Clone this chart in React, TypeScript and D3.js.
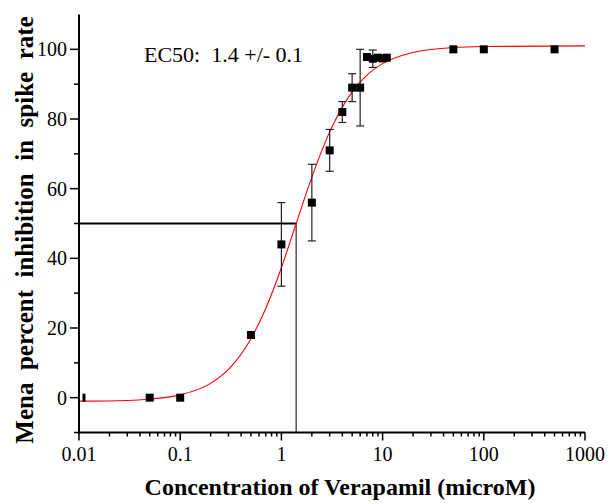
import { useEffect, useRef } from "react";
import * as d3 from "d3";

// measured points (concentration in microM, % inhibition, +/- error)
const concentrations = [0.0112, 0.05, 0.1, 0.5, 1, 2, 3, 4, 5, 6, 7, 8, 9, 10, 11, 50, 100, 500];
const inhibition = [0, 0, 0, 18, 44, 56, 71, 82, 89, 89, 97.8, 97.3, 97.6, 97.4, 97.6, 100, 100, 100];
const errors = [0, 0, 0, 0, 12, 11, 6, 3, 4, 11, 0, 2.5, 0, 0, 0, 0, 0, 0];

// fitted dose-response curve
const fitX = [0.01, 0.03, 0.05, 0.1, 0.2, 0.3, 0.5, 0.7, 1, 1.4, 2, 3, 5, 7, 10, 20, 50, 100, 1000];
const fitY = [-1.0, -0.8, -0.4, 0.8, 4.1, 8.1, 16.9, 25.6, 37.3, 50, 63.3, 76.3, 87.8, 92.6, 95.9, 99.1, 100.5, 100.8, 101];

const ec50 = 1.4;
const xTicks = [0.01, 0.1, 1, 10, 100, 1000];
const yTicks = [0, 20, 40, 60, 80, 100];
const yMinorTicks = [-10, 10, 30, 50, 70, 90];

const FONT = "Liberation Serif, Times New Roman, DejaVu Serif, serif";

export default function App() {
  const svgRef = useRef<SVGSVGElement>(null);
  const width = 612;
  const height = 504;

  useEffect(() => {
    if (!svgRef.current) return;
    const svg = d3.select(svgRef.current);
    svg.selectAll("*").remove();

    const x = d3.scaleLog().domain([0.01, 1000]).range([79, 585]);
    const y = d3.scaleLinear().domain([-10, 110]).range([432.5, 14.5]);
    const x0 = x.range()[0];
    const y0 = y.range()[0];

    // EC50 guide lines
    svg.append("line")
      .attr("x1", x0).attr("x2", x(ec50))
      .attr("y1", y(50)).attr("y2", y(50))
      .attr("stroke", "#000").attr("stroke-width", 2);
    svg.append("line")
      .attr("x1", x(ec50)).attr("x2", x(ec50))
      .attr("y1", y(50)).attr("y2", y0)
      .attr("stroke", "#555").attr("stroke-width", 1.5);

    // fit curve
    const line = d3.line<number>()
      .x((_, i) => x(fitX[i]))
      .y((d) => y(d))
      .curve(d3.curveMonotoneX);
    svg.append("path")
      .datum(fitY)
      .attr("d", line)
      .attr("fill", "none")
      .attr("stroke", "#ff0000")
      .attr("stroke-width", 1.1);

    // error bars
    const eb = svg.append("g").attr("stroke", "#222").attr("stroke-width", 1.2);
    concentrations.forEach((c, i) => {
      const e = errors[i];
      if (!e) return;
      const cx = x(c);
      const top = y(inhibition[i] + e);
      const bot = y(inhibition[i] - e);
      eb.append("line").attr("x1", cx).attr("x2", cx).attr("y1", top).attr("y2", bot);
      eb.append("line").attr("x1", cx - 4).attr("x2", cx + 4).attr("y1", top).attr("y2", top);
      eb.append("line").attr("x1", cx - 4).attr("x2", cx + 4).attr("y1", bot).attr("y2", bot);
    });

    // markers
    const m = 8;
    svg.append("g")
      .selectAll("rect")
      .data(concentrations)
      .join("rect")
      .attr("x", (d) => x(d) - (d < 0.02 ? 1.5 : m / 2))
      .attr("y", (_, i) => y(inhibition[i]) - m / 2)
      .attr("width", (d) => (d < 0.02 ? 3 : m))
      .attr("height", m)
      .attr("fill", "#000");

    // axes
    const axes = svg.append("g").attr("stroke", "#000").attr("stroke-width", 2);
    axes.append("line").attr("x1", x0).attr("x2", x0).attr("y1", y.range()[1]).attr("y2", y0 + 1);
    axes.append("line").attr("x1", x0 - 1).attr("x2", x.range()[1]).attr("y1", y0).attr("y2", y0);

    const ticks = svg.append("g").attr("stroke", "#000").attr("stroke-width", 1.5);
    yTicks.forEach((t) => {
      ticks.append("line").attr("x1", x0 - 9).attr("x2", x0).attr("y1", y(t)).attr("y2", y(t));
    });
    yMinorTicks.forEach((t) => {
      ticks.append("line").attr("x1", x0 - 5).attr("x2", x0).attr("y1", y(t)).attr("y2", y(t));
    });
    xTicks.forEach((t) => {
      ticks.append("line").attr("x1", x(t)).attr("x2", x(t)).attr("y1", y0).attr("y2", y0 + 8);
    });
    x.ticks().forEach((t) => {
      if (xTicks.includes(t)) return;
      ticks.append("line").attr("x1", x(t)).attr("x2", x(t)).attr("y1", y0).attr("y2", y0 + 4);
    });

    // tick labels
    svg.append("g")
      .selectAll("text")
      .data(yTicks)
      .join("text")
      .attr("x", x0 - 12)
      .attr("y", (d) => y(d) + 7)
      .attr("text-anchor", "end")
      .style("font-family", FONT)
      .style("font-size", "20px")
      .text((d) => String(d));
    svg.append("g")
      .selectAll("text")
      .data(xTicks)
      .join("text")
      .attr("x", (d) => x(d))
      .attr("y", 461)
      .attr("text-anchor", "middle")
      .style("font-family", FONT)
      .style("font-size", "20px")
      .text((d) => String(d));

    // titles
    svg.append("text")
      .attr("x", 340)
      .attr("y", 495)
      .attr("text-anchor", "middle")
      .style("font-family", FONT)
      .style("font-weight", "bold")
      .style("font-size", "24px")
      .text("Concentration of Verapamil (microM)");
    svg.append("text")
      .attr("transform", "translate(33,230) rotate(-90)")
      .attr("text-anchor", "middle")
      .style("font-family", FONT)
      .style("font-weight", "bold")
      .style("font-size", "25px")
      .style("white-space", "pre")
      .text("Mena  percent  inhibition  in  spike  rate");

    svg.append("text")
      .attr("x", 144)
      .attr("y", 62)
      .style("font-family", FONT)
      .style("font-size", "22px")
      .style("white-space", "pre")
      .text("EC50:  1.4 +/- 0.1");
  }, []);

  return (
    <svg
      ref={svgRef}
      width={width}
      height={height}
      style={{ position: "absolute", left: 0, top: 0, background: "#fff" }}
    />
  );
}
